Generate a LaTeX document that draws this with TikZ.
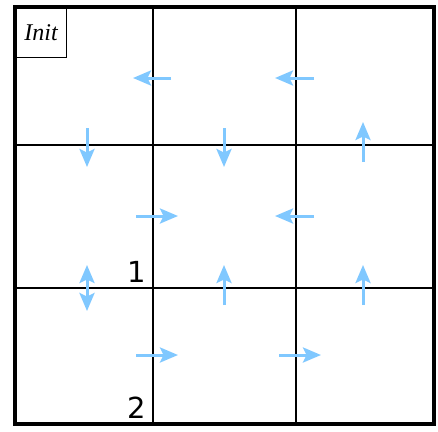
\documentclass[tikz,border=0pt]{standalone}
\usepackage{fontspec}
\newfontfamily\labfont{DejaVu Sans}
\newfontfamily\initfont{Liberation Serif}
\usetikzlibrary{arrows.meta}
\definecolor{arrblue}{RGB}{128,200,255}
\tikzset{
  grid line/.style={line width=2.8pt, black},
  outer line/.style={line width=4.5pt, black},
  tipx/.tip={Stealth[length=18pt,width=15pt,inset=3.5pt]},
  mv/.style={line width=3pt, arrblue, -tipx},
  mvboth/.style={line width=3pt, arrblue, tipx-tipx},
  numlab/.style={font=\labfont\fontsize{29}{31}\selectfont, inner sep=0pt},
}
\begin{document}
\begin{tikzpicture}[x=1pt,y=-1pt]
\useasboundingbox (0,0) rectangle (438,431);
\fill[white] (0,0) rectangle (438,431);
% grid
\coordinate (v1t) at (153,7); \coordinate (v1b) at (153,424);
\coordinate (v2t) at (296,7); \coordinate (v2b) at (296,424);
\coordinate (h1l) at (15,145); \coordinate (h1r) at (434,145);
\coordinate (h2l) at (15,288); \coordinate (h2r) at (434,288);
\draw[grid line] (v1t) -- (v1b);
\draw[grid line] (v2t) -- (v2b);
\draw[grid line] (h1l) -- (h1r);
\draw[grid line] (h2l) -- (h2r);
\coordinate (tl) at (15,7); \coordinate (br) at (434,424);
\draw[outer line] (tl) rectangle (br);
% Init box
\node[draw, line width=1pt, minimum width=51pt, minimum height=50pt, anchor=north west, inner sep=0pt,
      font=\initfont\itshape\fontsize{24}{26}\selectfont] (init) at (15,7) {Init};
% arrows
\coordinate (a1s) at (171,78); \coordinate (a1e) at (133,78);
\coordinate (a2s) at (314,78); \coordinate (a2e) at (275,78);
\coordinate (a3s) at (87,128); \coordinate (a3e) at (87,167);
\coordinate (a4s) at (224,128); \coordinate (a4e) at (224,167);
\coordinate (a5s) at (363,162); \coordinate (a5e) at (363,122);
\coordinate (a6s) at (136,216); \coordinate (a6e) at (178,216);
\coordinate (a7s) at (314,216); \coordinate (a7e) at (275,216);
\coordinate (a8s) at (87,265); \coordinate (a8e) at (87,311);
\coordinate (a9s) at (224,305); \coordinate (a9e) at (224,265);
\coordinate (a10s) at (363,305); \coordinate (a10e) at (363,265);
\coordinate (a11s) at (136,355); \coordinate (a11e) at (178,355);
\coordinate (a12s) at (279,355); \coordinate (a12e) at (321,355);
\draw[mv] (a1s) -- (a1e);
\draw[mv] (a2s) -- (a2e);
\draw[mv] (a3s) -- (a3e);
\draw[mv] (a4s) -- (a4e);
\draw[mv] (a5s) -- (a5e);
\draw[mv] (a6s) -- (a6e);
\draw[mv] (a7s) -- (a7e);
\draw[mvboth] (a8s) -- (a8e);
\draw[mv] (a9s) -- (a9e);
\draw[mv] (a10s) -- (a10e);
\draw[mv] (a11s) -- (a11e);
\draw[mv] (a12s) -- (a12e);
% labels
\node[numlab] (one) at (137,272) {1};
\node[numlab] (two) at (137,408) {2};
\end{tikzpicture}
\end{document}
